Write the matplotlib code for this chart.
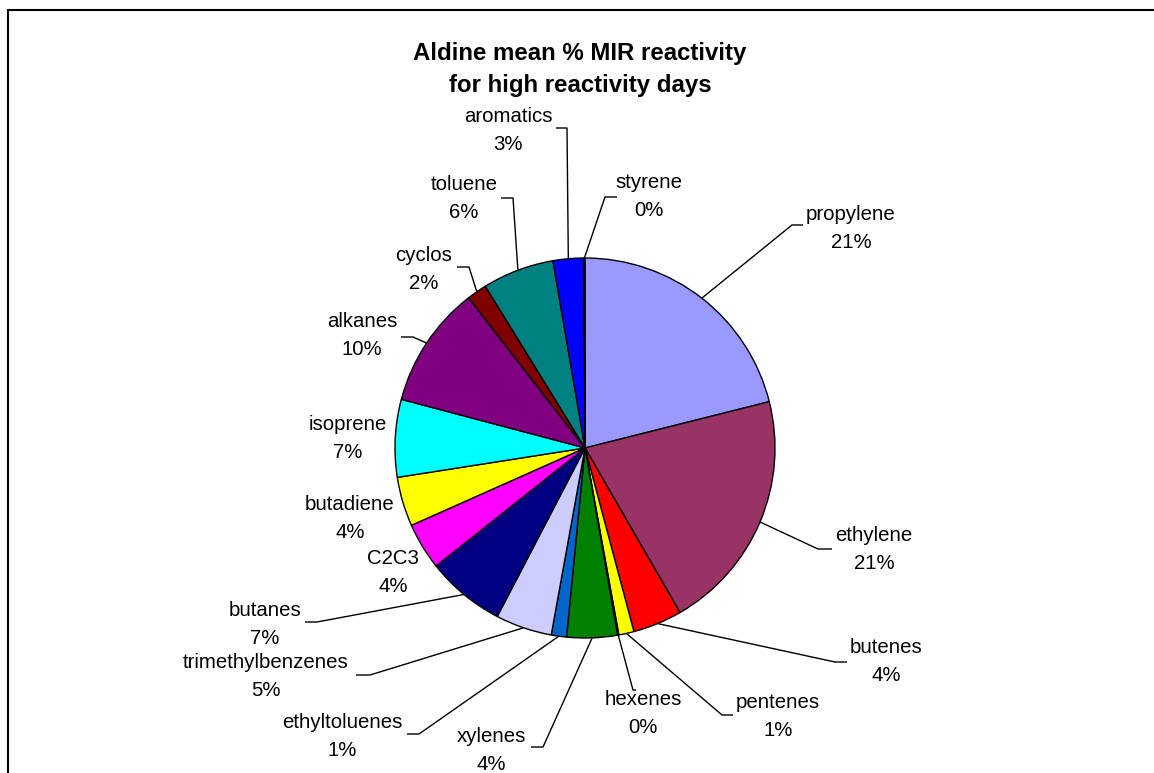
import matplotlib
matplotlib.use("Agg")
import numpy as np
import matplotlib.pyplot as plt

plt.rcParams['font.family'] = ['Liberation Sans', 'DejaVu Sans']

# slices, clockwise from 12 o'clock (% of MIR reactivity)
names = ["propylene", "ethylene", "butenes", "pentenes", "hexenes", "xylenes",
         "ethyltoluenes", "trimethylbenzenes", "butanes", "C2C3", "butadiene",
         "isoprene", "alkanes", "cyclos", "toluene", "aromatics", "styrene"]
values = [21.1, 20.6, 4.2, 1.3, 0.1, 4.3, 1.3, 4.8, 6.7, 4.0, 4.2,
          6.6, 10.4, 1.7, 6.1, 2.6, 0.1]
colors = ["#9999FF", "#993366", "#FF0000", "#FFFF00", "#FF8080", "#008000",
          "#0066CC", "#CCCCFF", "#000080", "#FF00FF", "#FFFF00",
          "#00FFFF", "#800080", "#800000", "#008080", "#0000FF", "#00CCFF"]

# label layout in picture pixels (from top-left): centre x, baseline of name
label_x = [851, 874, 886, 778, 643, 491, 342, 266, 265, 393, 350,
           348, 362, 424, 464, 508, 649]
label_y = [220, 541, 653, 708, 705, 742, 728, 668, 616, 564, 510,
           430, 327, 261, 190, 122, 188]
# leader lines: (x next to label, x of bend, y) or None
leaders = [(803, 792, 225), (832, 818, 549), (847, 835, 662), (733, 722, 715),
           (636, 633, 690), (531, 543, 747), (407, 419, 734), (356, 370, 675),
           (305, 317, 622), None, None, None, (401, 413, 337), (457, 469, 267),
           (501, 513, 198), (556, 567, 128), (617, 605, 197)]

W, H = 1154, 773
fig = plt.figure(figsize=(W / 100, H / 100), dpi=100)
ax = fig.add_axes([0, 0, 1, 1])

cx, cy, r = 585, H - 448, 190
wedges, _ = ax.pie(values, colors=colors, startangle=90, counterclock=False,
                   center=(cx, cy), radius=r,
                   wedgeprops=dict(edgecolor="black", linewidth=1.0))
ax.set_xlim(0, W)
ax.set_ylim(0, H)
ax.axis("off")

total = sum(values)
fs = 14.7
for i, w in enumerate(wedges):
    pct = values[i] / total * 100
    x, y = label_x[i], H - label_y[i]
    ax.text(x, y, names[i], ha="center", va="baseline", fontsize=fs)
    ax.text(x, y - 28, f"{pct:.0f}%", ha="center", va="baseline", fontsize=fs)
    if leaders[i] is not None:
        xl, xb, yl = leaders[i]
        mid = np.deg2rad((w.theta1 + w.theta2) / 2)
        px, py = cx + r * np.cos(mid), cy + r * np.sin(mid)
        ax.plot([xl, xb, px], [H - yl, H - yl, py], color="black", lw=1.0,
                solid_capstyle="butt")

ax.text(580, H - 60, "Aldine mean % MIR reactivity", ha="center",
        va="baseline", fontsize=17.3, fontweight="bold")
ax.text(580, H - 92, "for high reactivity days", ha="center",
        va="baseline", fontsize=17.3, fontweight="bold")

# chart area border (runs off the right and bottom edges)
ax.plot([8, 8, W + 5], [-5, H - 10, H - 10], color="black", lw=1.5,
        solid_joinstyle="miter", clip_on=False)

fig.savefig("out.png", dpi=100)
